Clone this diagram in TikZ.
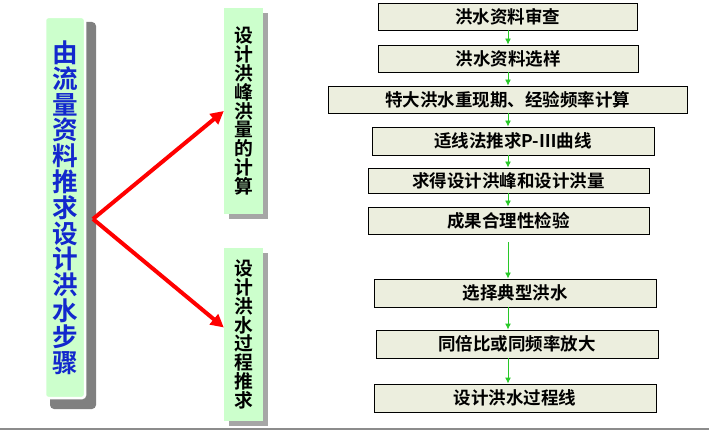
\documentclass[tikz,border=0pt]{standalone}
\usepackage{fontspec}
\setmainfont{Noto Sans CJK SC}[BoldFont={Noto Sans CJK SC Bold}]
\usetikzlibrary{arrows.meta,shadows}
\definecolor{boxG}{RGB}{204,255,204}
\definecolor{boxY}{RGB}{236,238,222}
\definecolor{txtB}{RGB}{18,40,205}
\definecolor{arrG}{RGB}{40,200,40}

\begin{document}
\begin{tikzpicture}[x=1pt,y=-1pt,
  stepbox/.style={draw=black,line width=0.9pt,fill=boxY,inner sep=0pt,minimum height=27pt,font=\fontsize{17.5}{19}\selectfont\bfseries},
  sidebox/.style={fill=boxG,inner sep=0pt,minimum width=39pt,align=center,font=\fontsize{18.8}{18.9}\selectfont\bfseries,drop shadow={shadow xshift=5pt,shadow yshift=-5pt,fill=black!35,opacity=1}},
  flow/.style={arrG,line width=0.9pt,-{Latex[length=6pt,width=6pt]}},
  fork/.style={red,line width=4pt,-{Triangle[length=13pt,width=13pt]}}]
\useasboundingbox (0,0) rectangle (709,430);
% main box and its shadow
\fill[black!50,rounded corners=4pt] (50,22) rectangle (96,409);
\node[draw=white,line width=2.5pt,fill=boxG,rounded corners=3pt,minimum width=40pt,minimum height=381pt,inner sep=0pt,align=center,text=txtB,font=\fontsize{25.6}{25.8}\selectfont\bfseries] (main) at (65,207.5) {由\\流\\量\\资\\料\\推\\求\\设\\计\\洪\\水\\步\\骤};
% two branches
\node[sidebox,minimum height=206pt] (peak) at (243.5,111) {设\\计\\洪\\峰\\洪\\量\\的\\计\\算};
\node[sidebox,minimum height=173pt] (hydro) at (243.5,334.5) {设\\计\\洪\\水\\过\\程\\推\\求};
\coordinate (fk) at (93,219);
\draw[fork] (fk) -- (peak.west);
\draw[fork] (fk) -- ([yshift=7pt]hydro.west);
% steps
\node[stepbox,minimum width=259pt] (s1) at (507.5,16.5) {洪水资料审查};
\node[stepbox,minimum width=260pt] (s2) at (508,58.5) {洪水资料选样};
\node[stepbox,minimum width=359pt] (s3) at (507.5,99.5) {特大洪水重现期、经验频率计算};
\node[stepbox,minimum width=282pt,minimum height=28pt] (s4) at (513,141) {适线法推求P-Ⅲ曲线};
\node[stepbox,minimum width=281pt,minimum height=25pt] (s5) at (508.5,180.5) {求得设计洪峰和设计洪量};
\node[stepbox,minimum width=281pt] (s6) at (508.5,220.5) {成果合理性检验};
\node[stepbox,minimum width=282pt,minimum height=28pt] (s7) at (515,293) {选择典型洪水};
\node[stepbox,minimum width=282pt,minimum height=28pt] (s8) at (517,344) {同倍比或同频率放大};
\node[stepbox,minimum width=282pt,minimum height=28pt] (s9) at (515,398) {设计洪水过程线};
\coordinate (col) at (508,0);
\foreach \a/\b in {s1/s2,s2/s3,s3/s4,s4/s5,s5/s6,s7/s8,s8/s9}
  \draw[flow] (\a.south -| col) -- (\b.north -| col);
\draw[flow,shorten <=8pt] (s6.south -| col) -- (s7.north -| col);
% bottom rule
\draw[black!45,line width=2pt] (0,428.5) -- (709,428.5);
\end{tikzpicture}
\end{document}
